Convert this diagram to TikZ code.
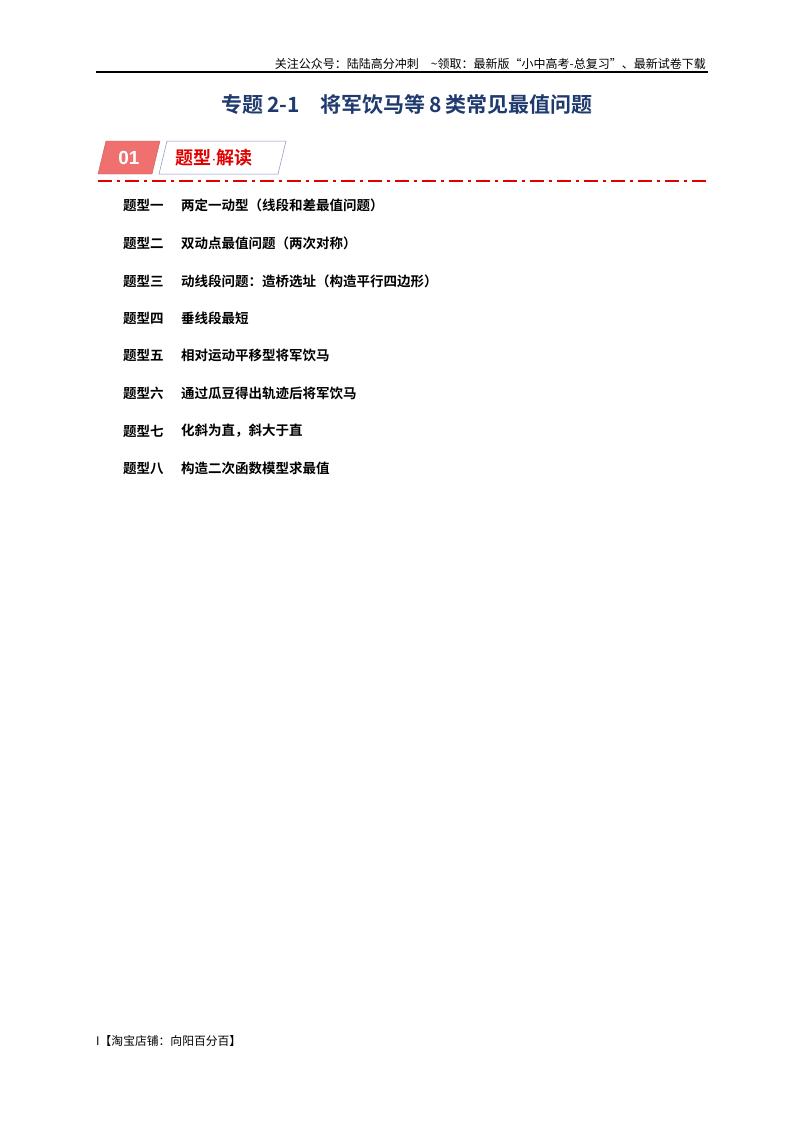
\documentclass[tikz,border=0pt]{standalone}
\usepackage{fontspec}
\setmainfont{Liberation Sans}
\newfontfamily\cjk{Noto Sans CJK SC}
\newfontfamily\cjkb{Noto Sans CJK SC Bold}
\definecolor{ttl}{HTML}{1F3A6E}
\definecolor{bred}{HTML}{F07070}
\definecolor{dred}{HTML}{E00000}
\definecolor{bblue}{HTML}{8090C0}
\begin{document}
\begin{tikzpicture}[x=1pt,y=-1pt,
  item/.style={anchor=west,font=\cjkb\fontsize{13.5}{15}\selectfont,inner sep=0}]
\useasboundingbox (0,0) rectangle (800,1132);
\node[anchor=base east,inner sep=0,font=\cjk\fontsize{12}{13}\selectfont] (hdr) at (706,69) {关注公众号：陆陆高分冲刺\quad \~{}领取：最新版“小中高考-总复习”、最新试卷下载};
\draw[line width=1.2pt] (96,72) -- (708,72);
\node[inner sep=0,font=\cjkb\fontsize{21}{24}\selectfont,text=ttl] (title) at (407,104) {专题\,2-1\quad 将军饮马等\,8\,类常见最值问题};
\draw[fill=bred,draw=bred!80!black,line width=0.4pt] (106,141) -- (160,141) -- (152,174) -- (98,174) -- cycle;
\node[text=white,font=\bfseries\fontsize{19}{21}\selectfont,inner sep=0] (n01) at (129,158) {01};
\draw[draw=bblue,line width=0.5pt] (167,141) -- (286,141) -- (278,174) -- (159,174) -- cycle;
\node[text=dred,font=\cjkb\fontsize{18}{20}\selectfont,inner sep=0] (hd) at (214,158) {题型$\cdot$解读};
\draw[dred,line width=2pt,dash pattern=on 14pt off 5pt on 3pt off 5pt] (98,181) -- (708,181);
\foreach \y/\a/\b [count=\i] in {205/题型一/两定一动型（线段和差最值问题）,243/题型二/双动点最值问题（两次对称）,281/题型三/动线段问题：造桥选址（构造平行四边形）,318/题型四/垂线段最短,355/题型五/相对运动平移型将军饮马,393/题型六/通过瓜豆得出轨迹后将军饮马,431/题型七/化斜为直，斜大于直,468/题型八/构造二次函数模型求最值}{
  \node[item] (l\i) at (123,\y) {\a};
  \node[item] (t\i) at (181,\y) {\b};
}
\node[anchor=west,inner sep=0,font=\cjk\fontsize{11.8}{13}\selectfont] (ft) at (96,1041) {I【淘宝店铺：向阳百分百】};
\end{tikzpicture}
\end{document}
